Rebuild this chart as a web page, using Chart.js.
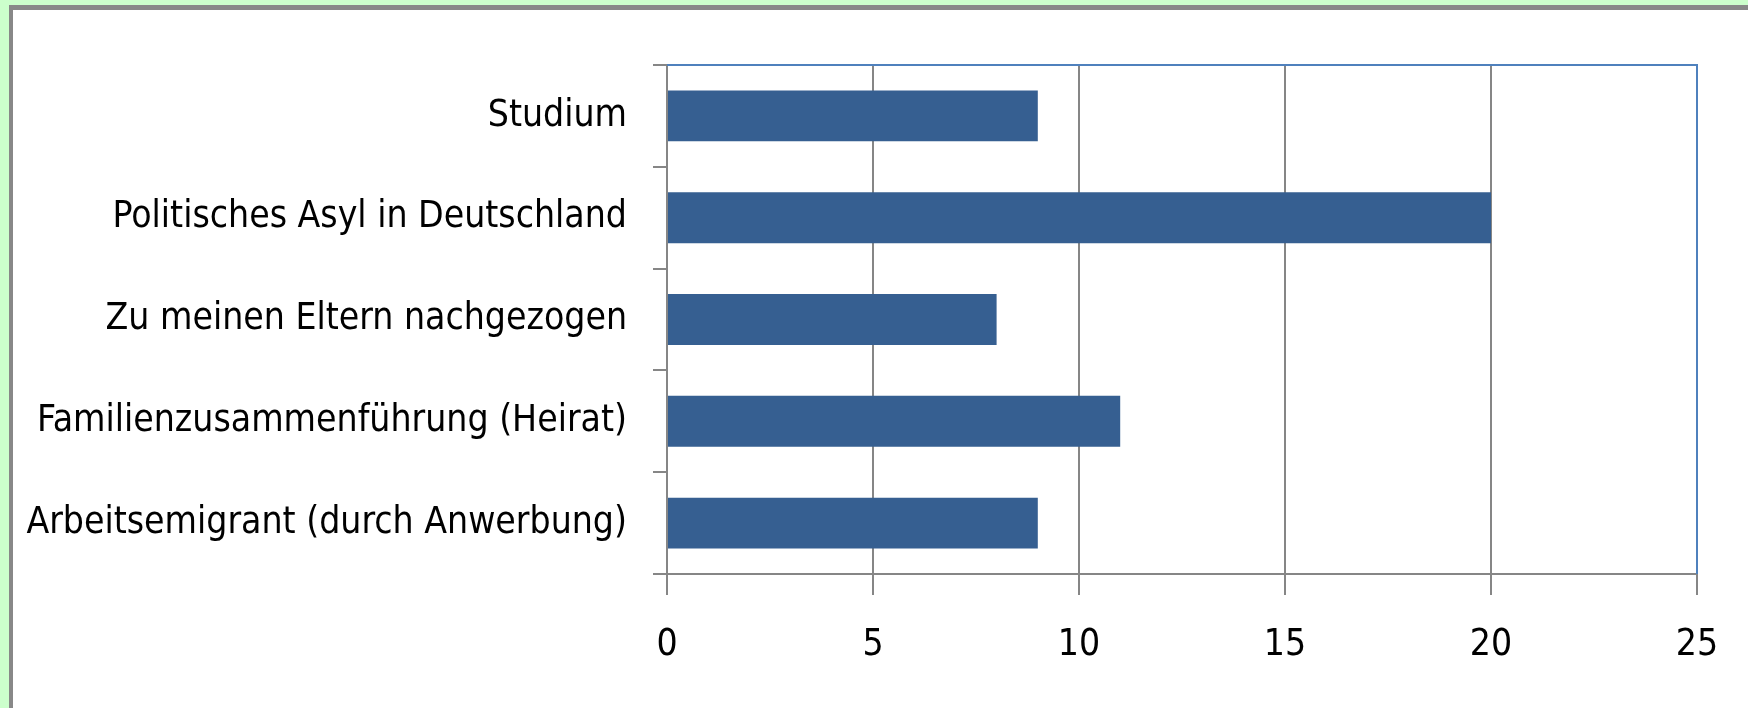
<!DOCTYPE html>
<html lang="de">
<head>
<meta charset="utf-8">
<title>Gründe der Einwanderung</title>
<script src="https://cdn.jsdelivr.net/npm/chart.js@4/dist/chart.umd.min.js"></script>
<style>
  html, body { margin: 0; padding: 0; background: #ccffcc; overflow: hidden; }
  #rahmen {
    position: absolute; left: 9px; top: 5px; width: 1800px; height: 760px;
    background: #ffffff; border-left: 4px solid #888888; border-top: 5px solid #888888;
  }
  #grafico { position: absolute; left: 0; top: 0; }
</style>
</head>
<body>
<div id="rahmen"></div>
<canvas id="grafico" width="1748" height="708"></canvas>
<script>
  // Dati
  const categorie = [
    "Studium",
    "Politisches Asyl in Deutschland",
    "Zu meinen Eltern nachgezogen",
    "Familienzusammenführung (Heirat)",
    "Arbeitsemigrant (durch Anwerbung)",
  ];
  const valori = [9, 20, 8, 11, 9];
  const asseMin = 0;
  const asseMax = 25;
  const assePasso = 5;

  const FONT = "'DejaVu Sans Condensed', 'Liberation Sans', sans-serif";
  const GRIGIO = "#868686";
  const BLU_BORDO = "#4f81bd";

  // bordo blu sopra e a destra dell'area del grafico
  const bordoBlu = {
    id: "bordoBlu",
    afterDraw(chart) {
      const { ctx, chartArea: a } = chart;
      ctx.save();
      ctx.strokeStyle = BLU_BORDO;
      ctx.lineWidth = 2;
      ctx.beginPath();
      ctx.moveTo(a.left, a.top);
      ctx.lineTo(a.right, a.top);
      ctx.lineTo(a.right, a.bottom);
      ctx.stroke();
      ctx.restore();
    },
  };

  new Chart(document.getElementById("grafico").getContext("2d"), {
    type: "bar",
    data: {
      labels: categorie,
      datasets: [
        {
          data: valori,
          backgroundColor: "#365f91",
          borderWidth: 0,
          categoryPercentage: 1,
          barPercentage: 0.5,
        },
      ],
    },
    options: {
      indexAxis: "y",
      responsive: false,
      animation: false,
      layout: { padding: { left: 0, top: 65, right: 51, bottom: 0 } },
      plugins: { legend: { display: false }, tooltip: { enabled: false } },
      scales: {
        x: {
          min: asseMin,
          max: asseMax,
          ticks: { stepSize: assePasso, color: "#000", padding: 28, font: { family: FONT, size: 37 } },
          grid: { color: GRIGIO, lineWidth: 2, tickLength: 21 },
          border: { color: GRIGIO, width: 2 },
          afterFit: (s) => { s.height = 134; },
        },
        y: {
          ticks: { color: "#000", padding: 26, font: { family: FONT, size: 37 } },
          grid: { drawOnChartArea: false, color: GRIGIO, lineWidth: 2, tickLength: 14 },
          border: { color: GRIGIO, width: 2 },
          afterFit: (s) => { s.width = 667; },
        },
      },
    },
    plugins: [bordoBlu],
  });
</script>
</body>
</html>
